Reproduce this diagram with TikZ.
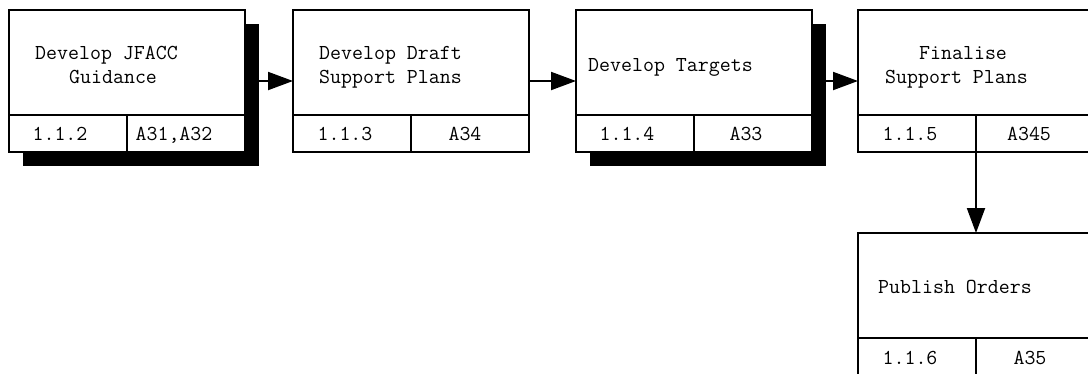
\documentclass[tikz,border=0pt]{standalone}
\usetikzlibrary{arrows.meta}
\tikzset{
  procbox/.style={draw, line width=2pt, fill=white, minimum width=236pt,
    minimum height=142pt, inner sep=0pt, outer sep=0pt},
  shadowbox/.style={fill=black, minimum width=236pt, minimum height=142pt,
    inner sep=0pt, outer sep=0pt},
  rule/.style={line width=2pt},
  flow/.style={line width=2pt, -{Triangle[length=25pt,width=18pt]}},
  label/.style={font=\ttfamily\fontsize{21.3}{24}\selectfont, inner sep=0pt},
  title/.style={label, anchor=base west},
  cell/.style={label, anchor=base}
}
\begin{document}
\begin{tikzpicture}[x=1pt, y=-1pt]
\useasboundingbox (0,0) rectangle (1088,373);

% drop shadows
\node[shadowbox] (s1) at (141,95) {};
\node[shadowbox] (s3) at (708,95) {};

% activity boxes
\node[procbox] (b1) at (127,81) {};
\node[procbox] (b2) at (411,81) {};
\node[procbox] (b3) at (694,81) {};
\node[procbox] (b4) at (976,81) {};
\node[procbox] (b5) at (976,304) {};

% reference cells under each box
\foreach \b in {b1,b2,b3,b4,b5} {
  \draw[rule] ([yshift=-105pt]\b.north west) -- ([yshift=-105pt]\b.north east);
  \draw[rule] (\b.south) -- ([yshift=-105pt]\b.north);
}

% box titles
\node[title] (t1a) at (35,59) {Develop JFACC};
\node[title] (t1b) at (69,83) {Guidance};
\node[title] (t2a) at (319,59) {Develop Draft};
\node[title] (t2b) at (319,83) {Support Plans};
\node[title] (t3a) at (588,71) {Develop Targets};
\node[title] (t4a) at (919,59) {Finalise};
\node[title] (t4b) at (885,83) {Support Plans};
\node[title] (t5a) at (878,293) {Publish Orders};

% cell texts
\node[cell] (n1) at (60,140.5) {1.1.2};
\node[cell] (r1) at (174,140.5) {A31,A32};
\node[cell] (n2) at (345,140.5) {1.1.3};
\node[cell] (r2) at (465,140.5) {A34};
\node[cell] (n3) at (627,140.5) {1.1.4};
\node[cell] (r3) at (746,140.5) {A33};
\node[cell] (n4) at (910,140.5) {1.1.5};
\node[cell] (r4) at (1029,140.5) {A345};
\node[cell] (n5) at (910,364.5) {1.1.6};
\node[cell] (r5) at (1030,364.5) {A35};

% flow arrows
\draw[flow] (s1.east |- b1.east) -- (b2.west);
\draw[flow] (b2.east) -- (b3.west);
\draw[flow] (s3.east |- b3.east) -- (b4.west);
\draw[flow] (b4.south) -- (b5.north);
\end{tikzpicture}
\end{document}
